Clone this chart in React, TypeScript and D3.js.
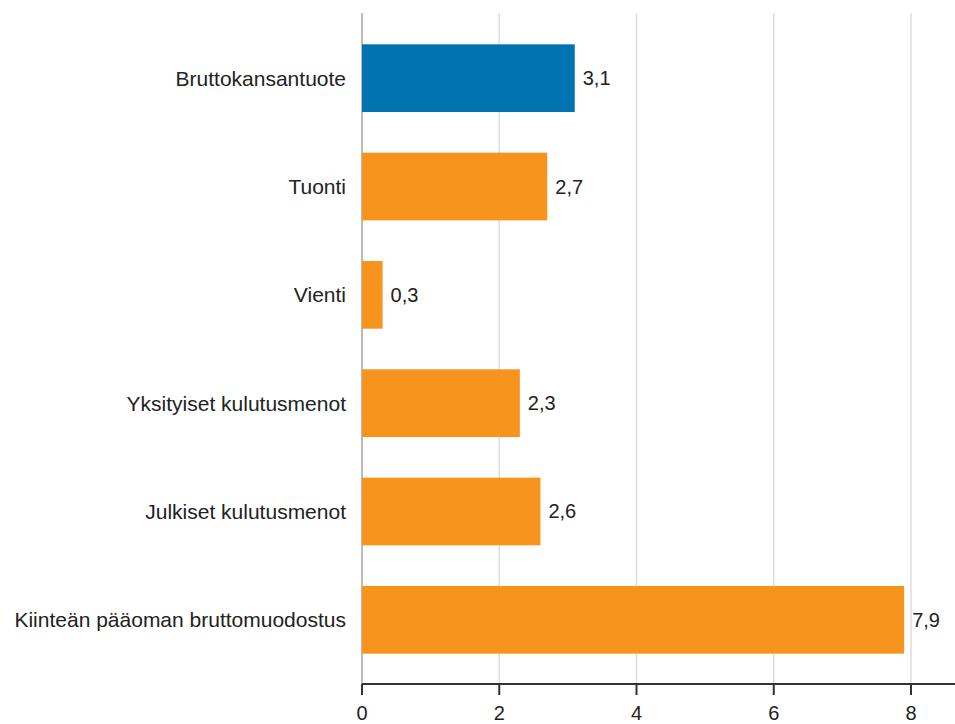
import React from "react";
import * as d3 from "d3";

const categories = [
  "Bruttokansantuote",
  "Tuonti",
  "Vienti",
  "Yksityiset kulutusmenot",
  "Julkiset kulutusmenot",
  "Kiinteän pääoman bruttomuodostus",
];
const values = [3.1, 2.7, 0.3, 2.3, 2.6, 7.9];
const barColors = ["#0073b0", "#f7941e", "#f7941e", "#f7941e", "#f7941e", "#f7941e"];
const xTicks = [0, 2, 4, 6, 8];

const W = 955;
const H = 724;
const left = 362;
const right = 955;
const top = 13;
const bottom = 684;
const font = "Liberation Sans, Arial, sans-serif";

export default function App() {
  const x = d3.scaleLinear().domain([0, 8]).range([left, 911]);
  const y = d3
    .scaleBand<string>()
    .domain(categories)
    .range([top + 1, bottom])
    .paddingInner(0.375)
    .paddingOuter(0.28);
  const fmt = (v: number) => v.toFixed(1).replace(".", ",");

  return (
    <svg
      width={W}
      height={H}
      style={{ position: "absolute", left: 0, top: 0, background: "#fff" }}
      fontFamily={font}
    >
      {xTicks.map((t) => (
        <line
          key={"g" + t}
          x1={x(t)}
          x2={x(t)}
          y1={top}
          y2={bottom}
          stroke={t === 0 ? "#bbbbbb" : "#dddddd"}
          strokeWidth={t === 0 ? 2 : 1.5}
        />
      ))}
      {categories.map((c, i) => {
        const y0 = y(c)!;
        const bw = y.bandwidth();
        return (
          <g key={c}>
            <rect x={x(0)} y={y0} width={x(values[i]) - x(0)} height={bw} fill={barColors[i]} />
            <text
              x={x(values[i]) + 8}
              y={y0 + bw / 2}
              dy="0.35em"
              fontSize={20}
              fill="#222"
            >
              {fmt(values[i])}
            </text>
            <text x={left - 16} y={y0 + bw / 2} dy="0.35em" fontSize={21} fill="#222" textAnchor="end">
              {c}
            </text>
          </g>
        );
      })}
      <line x1={left} x2={right} y1={bottom} y2={bottom} stroke="#333" strokeWidth={2} />
      {xTicks.map((t) => (
        <g key={"t" + t}>
          <line x1={x(t)} x2={x(t)} y1={bottom} y2={bottom + 11} stroke="#333" strokeWidth={2} />
          <text x={x(t)} y={bottom + 36} textAnchor="middle" fontSize={20} fill="#222">
            {t}
          </text>
        </g>
      ))}
    </svg>
  );
}
